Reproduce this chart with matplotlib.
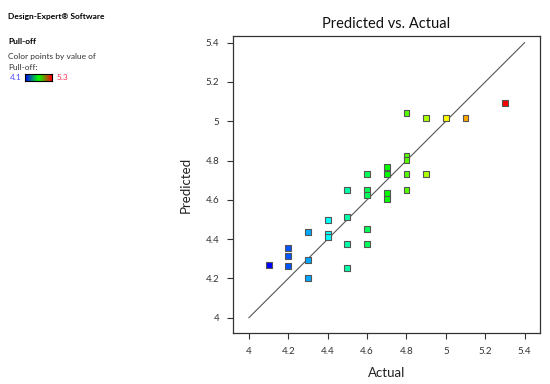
import matplotlib.pyplot as plt
import matplotlib.colors as mcolors
import numpy as np

plt.rcParams["font.family"] = ["Lato", "DejaVu Sans"]

# Actual vs predicted pull-off values
actual = [4.1, 4.2, 4.2, 4.2, 4.3, 4.3, 4.3, 4.4, 4.4, 4.4, 4.5, 4.5, 4.5,
          4.6, 4.6, 4.8, 4.9, 4.8, 4.8, 4.7, 4.7, 4.6, 4.8, 4.9, 4.5,
          4.6, 4.6, 4.7, 4.7, 4.8, 5.0, 5.1, 5.3]
predicted = [4.27, 4.353, 4.313, 4.265, 4.435, 4.292, 4.202, 4.497, 4.425,
             4.412, 4.513, 4.374, 4.255, 4.453, 4.377, 5.041, 5.015, 4.823,
             4.803, 4.766, 4.73, 4.73, 4.73, 4.73, 4.652, 4.652, 4.625,
             4.635, 4.606, 4.652, 5.015, 5.015, 5.093]
ticks = [4, 4.2, 4.4, 4.6, 4.8, 5, 5.2, 5.4]
tick_labels = ["4", "4.2", "4.4", "4.6", "4.8", "5", "5.2", "5.4"]
vmin, vmax = 4.1, 5.3

cmap = mcolors.LinearSegmentedColormap.from_list(
    "de", ["#0000ff", "#00ffff", "#00ff00", "#ffff00", "#ff0000"])

fig = plt.figure(figsize=(5.5, 3.84), dpi=100)
ax = fig.add_axes([0.4236, 0.1328, 0.5582, 0.7735])

ax.plot([4, 5.4], [4, 5.4], color="#555555", lw=0.8, zorder=1)
ax.scatter(actual, predicted, c=actual, cmap=cmap, vmin=vmin, vmax=vmax,
           marker="s", s=18, edgecolors="#555555", linewidths=0.8, zorder=2)

ax.set_xlim(3.919, 5.478)
ax.set_ylim(3.922, 5.434)
ax.set_xticks(ticks, tick_labels)
ax.set_yticks(ticks, tick_labels)
ax.tick_params(direction="out", length=4, width=0.8, color="#333333",
               labelsize=7, labelcolor="#333333", pad=6)
ax.tick_params(top=False, right=False)
for sp in ax.spines.values():
    sp.set_color("#333333")
    sp.set_linewidth(0.9)
ax.set_xlabel("Actual", fontsize=9.5, color="#222222", labelpad=8)
ax.set_ylabel("Predicted", fontsize=9.5, color="#222222", labelpad=10)
ax.set_title("Predicted vs. Actual", fontsize=10.5, color="#111111", pad=6)

# left-hand annotation block
fig.text(8 / 550, 1 - 16 / 384, "Design-Expert\u00ae Software", fontsize=6,
         fontweight="bold", va="center", ha="left")
fig.text(8 / 550, 1 - 41 / 384, "Pull-off", fontsize=6, fontweight="bold",
         va="center", ha="left")
fig.text(8 / 550, 1 - 56 / 384, "Color points by value of", fontsize=6,
         va="center", ha="left", color="#333333")
fig.text(8 / 550, 1 - 67 / 384, "Pull-off:", fontsize=6, va="center",
         ha="left", color="#333333")
fig.text(10 / 550, 1 - 77 / 384, "4.1", fontsize=6, va="center", ha="left",
         color="#5050ff")
fig.text(57 / 550, 1 - 77 / 384, "5.3", fontsize=6, va="center", ha="left",
         color="#ff3050")
cax = fig.add_axes([25 / 550, 1 - 81 / 384, 27 / 550, 7 / 384])
grad = mcolors.LinearSegmentedColormap.from_list(
    "bar", ["#0000ff", "#00ff00", "#ff0000"])
cax.imshow(np.linspace(0, 1, 100)[None, :], cmap=grad, aspect="auto")
cax.set_xticks([])
cax.set_yticks([])
for sp in cax.spines.values():
    sp.set_linewidth(0.8)

fig.savefig("out.png", dpi=100)
